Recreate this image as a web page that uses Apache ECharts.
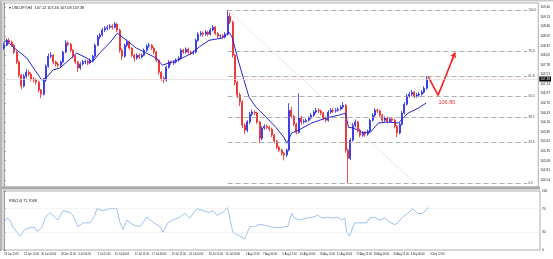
<!DOCTYPE html>
<html><head><meta charset="utf-8">
<script src="https://cdn.jsdelivr.net/npm/echarts@6.0.0/dist/echarts.min.js"></script>
<style>html,body{margin:0;padding:0;background:#fff}#c{width:553px;height:259px}</style>
</head><body><div id="c"></div>
<script>
// USDJPY H4 candles, each row: [open, close, low, high]
const candles = [
[108.25,108.33,108.20,108.40],[108.33,108.47,108.30,108.52],[108.47,108.42,108.36,108.53],[108.42,108.33,108.28,108.46],
[108.33,108.14,108.08,108.36],[108.14,107.86,107.80,108.18],[107.86,107.49,107.42,107.90],[107.49,107.18,107.09,107.52],
[107.18,107.46,107.14,107.52],[107.46,107.57,107.40,107.66],[107.57,107.52,107.45,107.63],[107.52,107.38,107.32,107.57],
[107.38,107.35,107.28,107.44],[107.35,107.29,107.22,107.40],[107.29,107.07,107.00,107.33],[107.07,106.95,106.84,107.10],
[106.95,107.35,106.92,107.40],[107.35,107.74,107.30,107.79],[107.74,108.02,107.70,108.10],[108.02,108.05,107.96,108.14],
[108.05,107.86,107.80,108.09],[107.86,107.80,107.73,107.90],[107.80,107.77,107.70,107.85],[107.77,107.86,107.72,107.90],
[107.86,108.14,107.82,108.18],[108.14,108.39,108.10,108.47],[108.39,108.36,108.30,108.44],[108.36,108.19,108.13,108.40],
[108.19,108.02,107.96,108.22],[108.02,107.86,107.80,108.06],[107.86,107.69,107.57,107.89],[107.69,107.80,107.64,107.85],
[107.80,107.86,107.76,107.92],[107.86,107.87,107.80,107.93],[107.87,107.83,107.77,107.92],[107.83,107.91,107.79,107.96],
[107.91,108.02,107.87,108.06],[108.02,108.33,107.98,108.38],[108.33,108.56,108.30,108.62],[108.56,108.62,108.50,108.68],
[108.62,108.76,108.58,108.82],[108.76,108.81,108.70,108.87],[108.81,108.84,108.75,108.90],[108.84,108.87,108.78,108.93],
[108.87,108.84,108.77,108.92],[108.84,108.93,108.80,108.99],[108.93,108.76,108.70,108.96],[108.76,108.19,108.12,108.80],
[108.19,108.02,107.91,108.24],[108.02,108.33,107.98,108.38],[108.33,108.42,108.28,108.49],[108.42,108.25,108.20,108.46],
[108.25,108.05,108.00,108.28],[108.05,107.97,107.86,108.09],[107.97,108.05,107.92,108.10],[108.05,108.00,107.94,108.09],
[108.00,108.05,107.96,108.10],[108.05,108.19,108.02,108.24],[108.19,108.31,108.15,108.36],[108.31,108.33,108.26,108.40],
[108.33,108.25,108.20,108.37],[108.25,108.14,108.08,108.28],[108.14,107.91,107.85,108.17],[107.91,107.57,107.50,107.94],
[107.57,107.40,107.33,107.60],[107.40,107.35,107.26,107.45],[107.35,107.71,107.31,107.76],[107.71,107.86,107.67,107.91],
[107.86,107.83,107.77,107.90],[107.83,107.86,107.78,107.91],[107.86,107.91,107.82,107.96],[107.91,107.97,107.87,108.02],
[107.97,108.19,107.93,108.24],[108.19,108.14,108.08,108.23],[108.14,108.22,108.10,108.27],[108.22,108.14,108.09,108.26],
[108.14,108.11,108.05,108.18],[108.11,108.14,108.06,108.19],[108.14,108.47,108.10,108.52],[108.47,108.64,108.43,108.70],
[108.64,108.67,108.58,108.73],[108.67,108.64,108.57,108.72],[108.64,108.70,108.60,108.76],[108.70,108.64,108.58,108.74],
[108.64,108.76,108.60,108.82],[108.76,108.84,108.72,108.90],[108.84,108.67,108.62,108.87],[108.67,108.59,108.53,108.70],
[108.59,108.60,108.53,108.64],[108.60,108.56,108.50,108.64],[108.56,108.64,108.52,108.70],[108.64,109.15,108.60,109.32],
[109.15,108.98,108.92,109.24],[108.98,108.05,107.98,109.02],[108.05,107.29,107.20,108.08],[107.29,106.93,106.84,107.33],
[106.93,106.73,106.62,107.00],[106.73,106.08,106.00,106.78],[106.08,105.94,105.83,106.14],[105.94,106.17,105.88,106.22],
[106.17,106.39,106.11,106.45],[106.39,106.45,106.33,106.52],[106.45,106.42,106.36,106.50],[106.42,106.17,106.11,106.46],
[106.17,105.71,105.57,106.20],[105.71,106.00,105.66,106.05],[106.00,106.05,105.95,106.11],[106.05,106.02,105.96,106.10],
[106.02,105.97,105.90,106.06],[105.97,105.80,105.74,106.01],[105.80,105.63,105.57,105.84],[105.63,105.46,105.40,105.67],
[105.46,105.38,105.32,105.50],[105.38,105.29,105.22,105.42],[105.29,105.24,105.09,105.33],[105.24,105.38,105.18,105.42],
[105.38,106.50,105.34,106.70],[106.50,106.33,106.27,106.60],[106.33,106.11,106.05,106.37],[106.11,105.88,105.82,106.15],
[105.88,106.28,105.84,106.98],[106.28,106.17,106.10,106.35],[106.17,106.19,106.12,106.25],[106.19,106.22,106.15,106.28],
[106.22,106.28,106.18,106.33],[106.28,106.36,106.24,106.42],[106.36,106.45,106.31,106.50],[106.45,106.50,106.40,106.57],
[106.50,106.48,106.42,106.56],[106.48,106.42,106.36,106.52],[106.42,106.28,106.22,106.46],[106.28,106.22,106.16,106.32],
[106.22,106.45,106.18,106.50],[106.45,106.50,106.40,106.56],[106.50,106.48,106.42,106.55],[106.48,106.50,106.43,106.56],
[106.50,106.53,106.46,106.59],[106.53,106.59,106.49,106.65],[106.59,106.64,106.54,106.73],[106.64,105.38,105.30,106.68],
[105.38,105.15,104.45,105.42],[105.15,105.66,105.10,105.72],[105.66,106.08,105.62,106.14],[106.08,106.17,106.02,106.24],
[106.17,105.94,105.88,106.20],[105.94,105.80,105.74,105.98],[105.80,105.86,105.75,105.91],[105.86,105.83,105.76,105.90],
[105.83,105.91,105.78,105.96],[105.91,106.22,105.87,106.27],[106.22,106.36,106.18,106.42],[106.36,106.50,106.32,106.56],
[106.50,106.48,106.42,106.55],[106.48,106.36,106.30,106.52],[106.36,106.22,106.16,106.40],[106.22,106.28,106.18,106.33],
[106.28,106.19,106.13,106.32],[106.19,106.25,106.15,106.30],[106.25,106.22,106.16,106.29],[106.22,106.05,105.99,106.26],
[106.05,105.86,105.74,106.09],[105.86,106.11,105.82,106.16],[106.11,106.42,106.07,106.48],[106.42,106.67,106.38,106.73],
[106.67,106.90,106.63,106.97],[106.90,106.95,106.85,107.02],[106.95,107.01,106.90,107.07],[107.01,106.90,106.84,107.04],
[106.90,106.93,106.85,106.99],[106.93,106.95,106.88,107.01],[106.95,107.01,106.91,107.07],[107.01,107.12,106.97,107.18],
[107.12,107.38,107.08,107.46]
];
// moving average, read at points: [bar index, price]
const maPoints = [
[0,108.42],[1.1,108.47],[3.6,108.28],[9.2,107.97],[11.7,107.71],[15.3,107.35],[17.3,107.43],[19.8,107.63],
[22.6,107.69],[25.5,107.86],[29.5,108.11],[33.6,107.97],[36.0,107.86],[38.8,108.11],[42.9,108.39],[46.1,108.67],
[49.8,108.47],[53.8,108.25],[57.9,108.11],[61.9,107.97],[64.4,107.77],[68.4,107.86],[72.5,107.97],[76.5,108.11],
[79.4,108.28],[83.4,108.47],[88.7,108.53],[91.5,108.70],[92.8,108.56],[95.6,107.83],[99.7,106.87],[102.5,106.59],
[106.6,106.31],[110.6,106.02],[113.9,105.74],[115.1,105.57],[117.1,105.86],[119.9,105.94],[125.2,106.14],[130.9,106.28],
[136.2,106.36],[139.0,106.42],[140.2,106.02],[142.2,106.00],[145.5,105.88],[149.1,105.88],[152.4,106.14],[156.4,106.17],
[160.5,106.14],[164.5,106.42],[168.6,106.56],[171.8,106.70]
];
// RSI(14), read at points: [bar index, value]
const rsiPoints = [
[0,47.6],[1.1,54],[2.3,50.8],[3.6,38],[5.2,30],[6.4,23.6],[7.2,22],[8.4,34.8],[10.5,38],[12.5,38],[13.3,31.6],
[15.3,38],[16.5,54],[18.6,63.6],[20.6,55.6],[21.8,50.8],[23.8,66.8],[26.7,63.6],[27.9,58.8],[29.9,39.6],[32.0,46],
[34.8,46],[36.8,58.8],[37.6,70],[40.1,66.8],[42.9,70],[45.7,70],[46.9,47.6],[48.2,34.8],[49.8,50.8],[52.2,42.8],
[55.1,39.6],[57.9,55.6],[60.3,47.6],[63.2,39.6],[64.4,30],[66.4,46],[68.4,50.8],[71.3,55.6],[73.3,62],[75.3,54],
[78.2,70],[80.6,66.8],[83.4,63.6],[84.7,66.8],[86.3,58.8],[88.7,63.6],[90.7,71.6],[92.8,30],[95.6,23.6],[97.6,18.8],
[99.7,39.6],[101.7,39.6],[102.9,42.8],[104.9,42.8],[107.8,39.6],[109.8,38],[111.8,38],[113.9,39.6],[115.1,39.6],
[116.7,62],[117.9,54],[119.9,50.8],[122.8,54],[125.2,55.6],[127.2,58.8],[129.3,54],[131.3,55.6],[133.3,54],
[135.4,55.6],[137.0,50.8],[138.2,54],[139.0,31.6],[140.2,23.6],[142.2,46],[144.3,46],[147.1,46],[148.3,54],
[150.4,55.6],[152.4,50.8],[154.4,54],[156.4,47.6],[158.5,42.8],[159.7,46],[161.7,55.6],[163.7,62],[165.8,70],
[167.8,62],[169.8,62],[171.8,70],[172.4,71.7]
];
const priceTicks = [109.40,109.13,108.86,108.59,108.32,108.05,107.78,107.51,107.24,106.97,106.70,106.43,106.16,105.89,105.62,105.35,105.08,104.81,104.54];
const rsiTicks = [0,30,70,100];
const xLabels = ['19 Jun 2019','21 Jun 12:00','26 Jun 00:00','28 Jun 12:00','3 Jul 00:00','5 Jul 12:00','10 Jul 00:00','12 Jul 12:00',
'17 Jul 00:00','19 Jul 12:00','24 Jul 00:00','26 Jul 12:00','31 Jul 00:00','2 Aug 12:00','7 Aug 00:00','9 Aug 12:00',
'14 Aug 00:00','16 Aug 12:00','21 Aug 00:00','23 Aug 12:00','28 Aug 00:00','30 Aug 12:00','4 Sep 00:00','6 Sep 12:00'];
const fibHigh = 109.32, fibLow = 104.45;
const fibRatios = [0, 0.236, 0.382, 0.5, 0.618, 0.764, 1];
const fibStartIdx = 91, fibEndIdx = 213;
const trendStart = [91, 109.32], trendEnd = [167.4, 104.45];
const arrowPath = [[172.6,107.46],[176.7,106.92],[183.6,108.12]];
const arrowHeadFrom = [182.2,107.88];
const supportText = '106.80', supportAt = [180.3,106.73];
const titleText = '\u25BE USDJPY,H4  107.12 107.46 107.08 107.38';
const rsiTitleText = 'RSI(14) 71.7068';

const N = 218;
const categories = Array.from({length: N}, (_, i) => String(i));
const labelIdx = xLabels.map((_, k) => Math.round(k * 7.5));
const lastClose = candles[candles.length - 1][1];
const fibLines = fibRatios.map(r => {
  const v = +(fibLow + r * (fibHigh - fibLow)).toFixed(3);
  return [{coord: [fibStartIdx, v], name: (r * 100).toFixed(1)}, {coord: [fibEndIdx, v]}];
});

const chart = echarts.init(document.getElementById('c'), null, {renderer: 'canvas'});
const tiny = {fontSize: 3.2, color: '#222', fontFamily: 'Liberation Sans'};
chart.setOption({
  animation: false,
  textStyle: {fontFamily: 'Liberation Sans'},
  title: [
    {text: titleText, left: 4, top: 1, textStyle: {fontSize: 3.8, fontWeight: 'normal', color: '#222'}},
    {text: rsiTitleText, left: 4, top: 194, textStyle: {fontSize: 3.8, fontWeight: 'normal', color: '#222'}}
  ],
  grid: [
    {left: 3, right: 13, top: 3, height: 184, show: true, borderColor: '#999', borderWidth: 0.8},
    {left: 3, right: 13, top: 191, height: 59, show: true, borderColor: '#999', borderWidth: 0.8}
  ],
  graphic: [
    {type: 'rect', shape: {x: 0, y: 186.5, width: 540, height: 3}, style: {fill: '#a9a9a9'}, z: 100},
    {type: 'rect', shape: {x: 0, y: 0, width: 2, height: 251}, style: {fill: '#b5b5b5'}, z: 100},
    {type: 'rect', shape: {x: 0, y: 0, width: 553, height: 1.5}, style: {fill: '#c8c8c8'}, z: 100}
  ],
  xAxis: [
    {type: 'category', gridIndex: 0, data: categories, boundaryGap: true, axisLine: {show: false}, axisTick: {show: false}, axisLabel: {show: false}, splitLine: {show: false}},
    {type: 'category', gridIndex: 1, data: categories, boundaryGap: true, axisLine: {show: false}, axisTick: {show: false},
      axisLabel: Object.assign({show: true, margin: 2.5, align: 'left',
        interval: (i) => labelIdx.indexOf(i) >= 0,
        formatter: (v, i) => { const k = labelIdx.indexOf(i); return k >= 0 ? xLabels[k] : ''; }}, tiny, {fontSize: 2.6})},
    {type: 'value', gridIndex: 0, min: -0.5, max: N - 0.5, show: false},
    {type: 'value', gridIndex: 1, min: -0.5, max: N - 0.5, show: false}
  ],
  yAxis: [
    {type: 'value', gridIndex: 0, position: 'right', min: 104.34, max: 109.52,
      axisLine: {show: true, lineStyle: {color: '#888', width: 0.8}},
      axisTick: {show: true, length: 1.5, customValues: priceTicks, lineStyle: {color: '#888'}},
      axisLabel: Object.assign({customValues: priceTicks, margin: 2, formatter: v => v.toFixed(2)}, tiny),
      splitLine: {show: false}},
    {type: 'value', gridIndex: 1, position: 'right', min: 0, max: 100,
      axisLine: {show: true, lineStyle: {color: '#888', width: 0.8}},
      axisTick: {show: true, length: 1.5, customValues: rsiTicks, lineStyle: {color: '#888'}},
      axisLabel: Object.assign({customValues: rsiTicks, margin: 2}, tiny),
      splitLine: {show: false}}
  ],
  series: [
    {type: 'candlestick', xAxisIndex: 0, yAxisIndex: 0, data: candles, barWidth: 1.5,
      itemStyle: {color: '#2b2be6', color0: '#ec2525', borderColor: '#2b2be6', borderColor0: '#ec2525', borderWidth: 0.8},
      markLine: {silent: true, symbol: 'none', animation: false,
        lineStyle: {color: '#e6d6d6', width: 0.7, type: 'solid'},
        label: {show: true, position: 'end', distance: 1, formatter: () => lastClose.toFixed(2), backgroundColor: '#000', color: '#fff', fontSize: 3.2, padding: [1, 1]},
        data: [{yAxis: lastClose}]}},
    {type: 'line', xAxisIndex: 2, yAxisIndex: 0, data: maPoints, symbol: 'none', lineStyle: {color: '#2323d4', width: 1}, z: 3,
      markLine: {silent: true, symbol: 'none', animation: false,
        label: {show: true, position: 'end', distance: 1, formatter: '{b}', fontSize: 3.2, color: '#444'},
        lineStyle: {color: '#999', width: 0.8, type: [5, 3]},
        data: fibLines.concat([[
          {coord: trendStart, lineStyle: {color: '#f0a9a9', width: 0.7, type: 'dotted'}, label: {show: false}},
          {coord: trendEnd}
        ]])}},
    {type: 'line', xAxisIndex: 2, yAxisIndex: 0, data: arrowPath, symbol: 'none', lineStyle: {color: '#ff1f1f', width: 1.6}, z: 4,
      markLine: {silent: true, symbol: ['none', 'arrow'], symbolSize: 5, animation: false,
        lineStyle: {color: '#ff1f1f', width: 1.6, type: 'solid'}, label: {show: false},
        data: [[{coord: arrowHeadFrom}, {coord: arrowPath[2]}]]},
      markPoint: {silent: true, symbol: 'circle', symbolSize: 0, animation: false,
        label: {show: true, formatter: supportText, color: '#f03030', fontSize: 5.5, position: 'inside'},
        data: [{coord: supportAt}]}},
    {type: 'line', xAxisIndex: 3, yAxisIndex: 1, data: rsiPoints, symbol: 'none', lineStyle: {color: '#74a8e6', width: 0.7},
      markLine: {silent: true, symbol: 'none', animation: false, label: {show: false},
        lineStyle: {color: '#dcdcdc', width: 0.6, type: 'dotted'},
        data: [{yAxis: 30}, {yAxis: 70}]}}
  ]
});
</script>
</body></html>
